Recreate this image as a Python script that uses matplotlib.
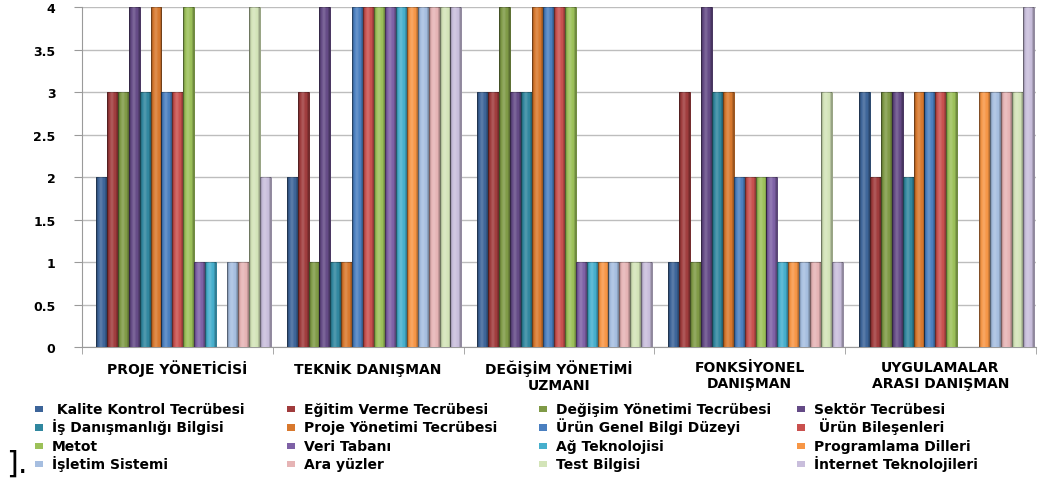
import matplotlib
matplotlib.use("Agg")
import matplotlib.pyplot as plt
import numpy as np
from matplotlib.patches import Rectangle

plt.rcParams['font.family'] = ['DejaVu Sans']

categories = ["PROJE YÖNETİCİSİ", "TEKNİK DANIŞMAN", "DEĞİŞİM YÖNETİMİ\nUZMANI",
              "FONKSİYONEL\nDANIŞMAN", "UYGULAMALAR\nARASI DANIŞMAN"]

series_names = [
    " Kalite Kontrol Tecrübesi", "Eğitim Verme Tecrübesi", "Değişim Yönetimi Tecrübesi", "Sektör Tecrübesi",
    "İş Danışmanlığı Bilgisi", "Proje Yönetimi Tecrübesi", "Ürün Genel Bilgi Düzeyi", " Ürün Bileşenleri",
    "Metot", "Veri Tabanı", "Ağ Teknolojisi", "Programlama Dilleri",
    "İşletim Sistemi", "Ara yüzler", "Test Bilgisi", "İnternet Teknolojileri",
]

series_colors = [
    "#3c6499", "#a03b3c", "#7f9a46", "#644a86", "#30879f", "#d8782d",
    "#4a7fc0", "#c9504e", "#9cc159", "#7e61a6", "#46afcd", "#f79646",
    "#a6bee0", "#e6b4b5", "#d3e4b8", "#c9bedc",
]

# scores per series, one value per category (in category order)
kalite_kontrol = [2, 2, 3, 1, 3]
egitim_verme = [3, 3, 3, 3, 2]
degisim_yonetimi = [3, 1, 4, 1, 3]
sektor = [4, 4, 3, 4, 3]
is_danismanligi = [3, 1, 3, 3, 2]
proje_yonetimi = [4, 1, 4, 3, 3]
urun_genel = [3, 4, 4, 2, 3]
urun_bilesenleri = [3, 4, 4, 2, 3]
metot = [4, 4, 4, 2, 3]
veri_tabani = [1, 4, 1, 2, 0]
ag_teknolojisi = [1, 4, 1, 1, 0]
programlama_dilleri = [0, 4, 1, 1, 3]
isletim_sistemi = [1, 4, 1, 1, 3]
ara_yuzler = [1, 4, 1, 1, 3]
test_bilgisi = [4, 4, 1, 3, 3]
internet_teknolojileri = [2, 4, 1, 1, 4]

series_values = [
    kalite_kontrol, egitim_verme, degisim_yonetimi, sektor,
    is_danismanligi, proje_yonetimi, urun_genel, urun_bilesenleri,
    metot, veri_tabani, ag_teknolojisi, programlama_dilleri,
    isletim_sistemi, ara_yuzler, test_bilgisi, internet_teknolojileri,
]

yticks = [0, 0.5, 1, 1.5, 2, 2.5, 3, 3.5, 4]
ytick_labels = ["0", "0.5", "1", "1.5", "2", "2.5", "3", "3.5", "4"]

W, H = 1042, 481


def darker(hex_color, f=0.72):
    r, g, b = matplotlib.colors.to_rgb(hex_color)
    return (r * f, g * f, b * f)


# soft cylindrical shading laid over each column: darker rims, lighter middle
u = np.linspace(-1, 1, 64)
shade = np.zeros((1, u.size, 4))
rim = np.clip(np.abs(u) - 0.55, 0, None) / 0.45
mid = np.clip(1 - np.abs(u + 0.1) / 0.5, 0, None)
shade[0, :, :3] = np.where(rim[:, None] > 0, 0.0, 1.0)
shade[0, :, 3] = np.maximum(rim * 0.35, mid * 0.18)

fig = plt.figure(figsize=(W / 100, H / 100), dpi=100)
ax = fig.add_axes([0.0787, 0.2765, 0.9153, 0.7065])

n = len(series_values)
group_width = 0.916
bar_w = group_width / n
x = np.arange(len(categories))
shift = 0.031

for i, (vals, col) in enumerate(zip(series_values, series_colors)):
    pos = x + shift - group_width / 2 + bar_w * (i + 0.5)
    bars = ax.bar(pos, vals, width=bar_w, color=col, edgecolor=darker(col), linewidth=0.7, zorder=3)
    for b in bars:
        h = b.get_height()
        if h <= 0:
            continue
        bx = b.get_x()
        im = ax.imshow(shade, extent=(bx, bx + b.get_width(), 0, h), aspect='auto',
                       interpolation='bilinear', zorder=3.5)
        im.set_clip_path(b)

ax.set_xlim(-0.5, len(categories) - 0.5)
ax.set_ylim(0, 4)
ax.set_yticks(yticks)
ax.set_yticklabels(ytick_labels, fontsize=9, fontweight='bold')
ax.grid(axis='y', color='#bdbdbd', linewidth=1.0, zorder=0)
ax.set_axisbelow(True)

ax.set_xticks(x)
ax.set_xticklabels(categories, fontsize=10, fontweight='bold', linespacing=1.2)
ax.tick_params(axis='x', which='major', length=0, pad=9)
ax.set_xticks(np.arange(-0.5, len(categories), 1.0), minor=True)
ax.tick_params(axis='x', which='minor', length=5, color='#9a9a9a', direction='out')
ax.tick_params(axis='y', length=6, color='#9a9a9a', pad=13)

for side in ('top', 'right'):
    ax.spines[side].set_visible(False)
ax.spines['left'].set_color('#9a9a9a')
ax.spines['bottom'].set_color('#9a9a9a')

# legend: four fixed-width columns, filled row by row
marker_px = [35, 287, 539, 797]
baseline_px = [414, 432.5, 451, 469]
for k, (name, col) in enumerate(zip(series_names, series_colors)):
    r, c = divmod(k, 4)
    mx, by = marker_px[c], baseline_px[r]
    fig.add_artist(Rectangle((mx / W, 1 - (by - 1) / H), 8 / W, 6.5 / H,
                             transform=fig.transFigure, facecolor=col, edgecolor='none'))
    fig.text((mx + 17) / W, 1 - by / H, name, fontsize=10, fontweight='bold',
             ha='left', va='baseline')

fig.text(6 / W, 1 - 473 / H, "].", fontsize=22, ha='left', va='baseline')

fig.savefig("out.png", dpi=100)
